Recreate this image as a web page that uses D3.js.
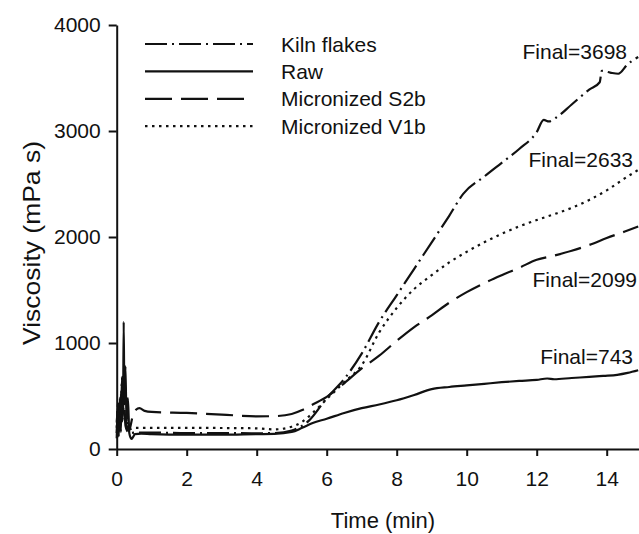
<!DOCTYPE html>
<html>
<head>
<meta charset="utf-8">
<script src="https://cdn.jsdelivr.net/npm/d3@7"></script>
<style>
  body { margin: 0; background: #fff; }
  text { font-family: "Liberation Sans", Arial, Helvetica, sans-serif; fill: #111; }
</style>
</head>
<body>
<div id="chart"></div>
<script>
const width = 639;
const height = 534;

// time (min) and viscosity (mPa s)
const kilnT = [0, 0.04, 0.08, 0.12, 0.16, 0.2, 0.25, 0.3, 0.4, 0.5, 1, 2, 3, 4, 4.5, 5, 5.5, 6, 6.5, 7, 7.5, 8, 8.5, 9, 9.5, 9.9, 10.5, 11, 11.5, 12, 12.2, 12.35, 12.55, 13, 13.5, 13.8, 13.86, 14.1, 14.33, 14.6, 14.9];
const kilnV = [150, 380, 180, 520, 260, 600, 220, 170, 150, 155, 155, 150, 150, 148, 150, 175, 270, 480, 660, 900, 1200, 1450, 1700, 1950, 2200, 2407, 2570, 2700, 2830, 2990, 3105, 3090, 3125, 3250, 3390, 3460, 3567, 3551, 3540, 3630, 3698];

const rawT = [0, 0.03, 0.06, 0.09, 0.12, 0.15, 0.18, 0.2, 0.22, 0.25, 0.28, 0.32, 0.36, 0.42, 0.47, 0.52, 0.7, 1, 2, 3, 4, 4.5, 5, 5.3, 5.6, 6, 6.5, 7, 7.5, 8, 8.5, 9, 9.5, 10, 10.5, 11, 11.5, 12, 12.3, 12.5, 13, 13.5, 13.9, 14.3, 14.6, 14.9];
const rawV = [100, 330, 120, 480, 160, 680, 320, 1200, 420, 780, 260, 480, 150, 95, 115, 140, 145, 140, 135, 135, 140, 142, 160, 200, 245, 285, 340, 385, 420, 460, 510, 565, 585, 600, 615, 630, 642, 652, 665, 658, 670, 680, 690, 700, 718, 743];

const s2bT = [0, 0.05, 0.1, 0.15, 0.2, 0.27, 0.35, 0.45, 0.55, 0.65, 0.8, 1, 2, 3, 4, 4.5, 5, 5.3, 5.6, 6, 6.5, 7, 7.5, 8, 8.5, 9, 9.5, 10, 10.5, 11, 11.5, 12, 12.5, 13, 13.5, 14, 14.5, 14.9];
const s2bV = [250, 420, 200, 560, 330, 240, 170, 300, 370, 385, 360, 350, 340, 325, 308, 310, 330, 367, 420, 492, 620, 760, 880, 1020, 1150, 1260, 1380, 1480, 1565, 1640, 1710, 1785, 1825, 1870, 1925, 1990, 2050, 2099];

const v1bT = [0, 0.05, 0.1, 0.15, 0.2, 0.25, 0.3, 0.4, 0.5, 1, 2, 3, 4, 4.5, 5, 5.3, 5.6, 6, 6.5, 7, 7.5, 8, 8.5, 9, 9.5, 10, 10.5, 11, 11.5, 12, 12.5, 13, 13.5, 14, 14.5, 14.9];
const v1bV = [200, 450, 250, 620, 350, 300, 240, 190, 200, 200, 200, 198, 195, 185, 210, 257, 340, 470, 630, 790, 1100, 1330, 1510, 1640, 1760, 1860, 1950, 2030, 2100, 2160, 2215, 2275, 2350, 2440, 2550, 2633];

const seriesNames = ['Kiln flakes', 'Raw', 'Micronized S2b', 'Micronized V1b'];
const dashes = ['22,5,2,5', null, '27,9', '2.5,4.5'];
const finals = [3698, 743, 2099, 2633];
const xTicks = [0, 2, 4, 6, 8, 10, 12, 14];
const yTicks = [0, 1000, 2000, 3000, 4000];

const series = [
  { name: seriesNames[0], t: kilnT, v: kilnV, dash: dashes[0] },
  { name: seriesNames[1], t: rawT, v: rawV, dash: dashes[1] },
  { name: seriesNames[2], t: s2bT, v: s2bV, dash: dashes[2] },
  { name: seriesNames[3], t: v1bT, v: v1bV, dash: dashes[3] }
];

const x = d3.scaleLinear().domain([0, 15]).range([116.7, 641.7]);
const y = d3.scaleLinear().domain([0, 4000]).range([449, 25]);

const svg = d3.select('#chart').append('svg')
  .attr('width', width)
  .attr('height', height);

// axes
const xAxis = svg.append('g')
  .attr('transform', `translate(0,${y(0)})`)
  .call(d3.axisBottom(x).tickValues(xTicks).tickSize(7).tickSizeOuter(0).tickPadding(15));
const yAxis = svg.append('g')
  .attr('transform', `translate(${x(0)},0)`)
  .call(d3.axisLeft(y).tickValues(yTicks).tickSize(8).tickSizeOuter(0).tickPadding(8).tickFormat(d3.format('d')));

[xAxis, yAxis].forEach(a => {
  a.selectAll('path, line').attr('stroke', '#111').attr('stroke-width', 2);
  a.selectAll('text').attr('font-size', 21).attr('fill', '#111');
});

svg.append('text')
  .attr('x', 383)
  .attr('y', 528)
  .attr('text-anchor', 'middle')
  .attr('font-size', 22)
  .text('Time (min)');

// the y title is drawn noticeably longer than the x title
svg.append('text')
  .attr('transform', 'translate(40,243) rotate(-90)')
  .attr('text-anchor', 'middle')
  .attr('font-size', 24)
  .attr('textLength', 204)
  .attr('lengthAdjust', 'spacingAndGlyphs')
  .text('Viscosity (mPa s)');

// curves
const line = d3.line()
  .x(d => x(d[0]))
  .y(d => y(d[1]))
  .curve(d3.curveMonotoneX);

svg.append('g')
  .selectAll('path')
  .data(series)
  .join('path')
  .attr('d', d => line(d.t.map((t, i) => [t, d.v[i]])))
  .attr('fill', 'none')
  .attr('stroke', '#111')
  .attr('stroke-width', 2.2)
  .attr('stroke-dasharray', d => d.dash);

// Final= labels
const finalPos = [[627, 59], [633, 364], [637, 287], [633, 167]];
svg.append('g')
  .selectAll('text')
  .data(finals)
  .join('text')
  .attr('x', (d, i) => finalPos[i][0])
  .attr('y', (d, i) => finalPos[i][1])
  .attr('text-anchor', 'end')
  .attr('font-size', 21)
  .text(d => `Final=${d}`);

// legend
const legend = svg.append('g');
const rows = legend.selectAll('g')
  .data(series)
  .join('g')
  .attr('transform', (d, i) => `translate(145,${44 + i * 27.4})`);
rows.append('line')
  .attr('x1', 0).attr('x2', 108)
  .attr('stroke', '#111')
  .attr('stroke-width', 2.2)
  .attr('stroke-dasharray', d => d.dash);
rows.append('text')
  .attr('x', 136)
  .attr('dy', '0.36em')
  .attr('font-size', 21)
  .text(d => d.name);
</script>
</body>
</html>
